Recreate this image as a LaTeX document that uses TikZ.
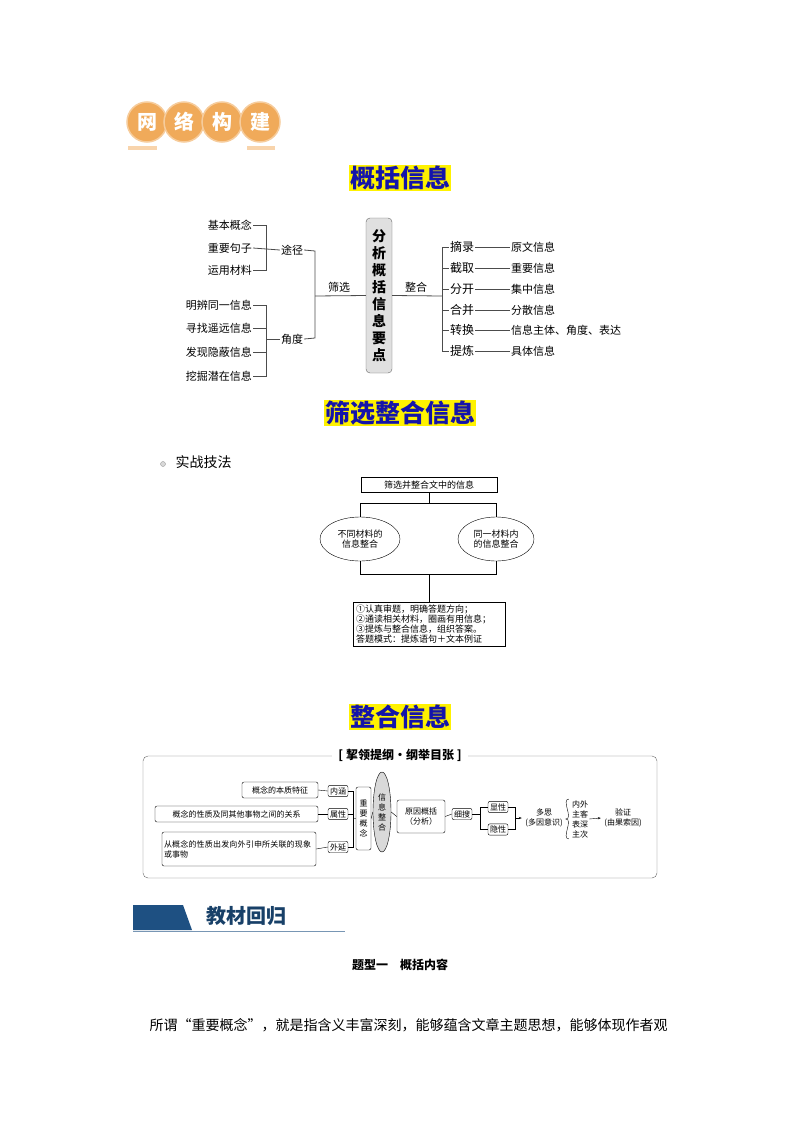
\documentclass[tikz,border=0pt]{standalone}
\usepackage{fontspec}
\setmainfont{Noto Sans CJK SC}
\XeTeXlinebreaklocale "zh"
\XeTeXlinebreakskip=0pt plus 1pt
\usetikzlibrary{shapes.geometric,arrows.meta,calc}
\definecolor{badge}{RGB}{240,170,90}
\definecolor{ttl}{RGB}{20,20,170}
\definecolor{navy}{RGB}{30,80,130}
\tikzset{
 t/.style={font=\fontsize{11}{12}\selectfont, inner sep=1pt},
 ts/.style={font=\fontsize{9}{10}\selectfont, inner sep=1pt},
 title/.style={fill=yellow, text=ttl, font=\fontsize{25}{27}\selectfont\bfseries, inner sep=1pt},
 ln/.style={draw=black!70, line width=0.8pt},
 sb/.style={draw, rounded corners=2pt, font=\fontsize{8}{10}\selectfont, inner sep=2pt},
}
\begin{document}
\begin{tikzpicture}[x=1pt,y=-1pt]
\useasboundingbox (0,0) rectangle (800,1132);
% badge
\foreach \cx/\ch [count=\i] in {147/网,184/络,222/构,260/建}{
 \node[circle, fill=badge, draw=badge!60!white, line width=1.5pt, minimum size=40pt, text=white,
   font=\fontsize{20}{20}\selectfont\bfseries] (bd\i) at (\cx,122) {\ch};}
\fill[badge!50] (128,146) rectangle (157,150);
\fill[badge!50] (247,146) rectangle (275,150);
% title 1
\node[title] (t1) at (400,178) {概括信息};
% diagram 1
\node[t, anchor=east] (a1) at (253,225) {基本概念};
\node[t, anchor=east] (a2) at (253,248) {重要句子};
\node[t, anchor=east] (a3) at (253,270) {运用材料};
\node[t, anchor=east] (b1) at (253,305) {明辨同一信息};
\node[t, anchor=east] (b2) at (253,328) {寻找遥远信息};
\node[t, anchor=east] (b3) at (253,352) {发现隐蔽信息};
\node[t, anchor=east] (b4) at (253,376) {挖掘潜在信息};
\node[t] (tj) at (292,250) {途径};
\node[t] (jd) at (292,339) {角度};
\draw[ln] (a1.east)--(266,225)--(266,270)--(a3.east);
\draw[ln] (a2.east)--(tj.west);
\draw[ln] (b1.east)--(266,305)--(266,376)--(b4.east);
\draw[ln] (b2.east)--(266,328); \draw[ln] (b3.east)--(266,352);
\draw[ln] (266,339)--(jd.west);
\draw[ln] (tj.east)--(315,251)--(315,338)--(jd.east);
\node[draw=black!60, fill=black!12, rounded corners=4pt, minimum width=26pt, minimum height=155pt,
  align=center, font=\fontsize{14}{17}\selectfont\bfseries, inner sep=1pt] (c) at (379,295.5)
  {分\\析\\概\\括\\信\\息\\要\\点};
\node[t] (sx) at (339,287) {筛选};
\node[t] (zh) at (416,287) {整合};
\draw[ln] (315,296)--(c.west);
\draw[ln] (c.east)--(442,296);
\draw[ln] (442,247)--(442,351);
\foreach \w/\r/\yy [count=\i] in {摘录/原文信息/247,截取/重要信息/268,分开/集中信息/289,合并/分散信息/310,转换/信息主体、角度、表达/330,提炼/具体信息/351}{
 \node[t, font=\fontsize{12}{13}\selectfont] (l\i) at (462,\yy) {\w};
 \node[t, anchor=west] (r\i) at (510,\yy) {\r};
 \draw[ln] (442,\yy)--(l\i.west);
 \draw[ln] (l\i.east)--(r\i.west);
}
% title 2
\node[title] (t2) at (400,413) {筛选整合信息};
\node[circle, draw=black!40, fill=black!15, minimum size=5pt, inner sep=0] (bul) at (163,464) {};
\node[font=\fontsize{14}{15}\selectfont, anchor=west] (sz) at (172,462) {实战技法};
% flowchart
\node[draw, ts, minimum width=136pt, minimum height=15pt] (f0) at (429,485) {筛选并整合文中的信息};
\node[draw, ellipse, ts, align=center, minimum width=80pt, minimum height=44pt] (e1) at (360,539) {不同材料的\\信息整合};
\node[draw, ellipse, ts, align=center, minimum width=76pt, minimum height=44pt] (e2) at (496,539) {同一材料内\\的信息整合};
\node[draw, ts, align=left, text width=146pt, inner sep=3pt, line width=0.6pt] (f3) at (429,624) {①认真审题，明确答题方向；\\②通读相关材料，圈画有用信息；\\③提炼与整合信息，组织答案。\\答题模式：提炼语句＋文本例证};
\draw (f0.south)--(429,503)--(360,503)--(e1.north);
\draw (429,503)--(496,503)--(e2.north);
\draw (e1.south)--(360,574)--(496,574)--(e2.south);
\draw (429,574)--(f3.north);
% title 3
\node[title] (t3) at (400,717) {整合信息};
% panel
\draw[black!60, rounded corners=5pt] (143,756) rectangle (657,878);
\node[fill=white, font=\fontsize{12}{13}\selectfont\bfseries, inner xsep=6pt] (hd) at (400,755) {[\ 挈领提纲·纲举目张\ ]};
\node[sb, minimum width=76pt, minimum height=16pt] (p1) at (280,790) {概念的本质特征};
\node[sb, minimum width=163pt, minimum height=16pt] (p2) at (236.5,814) {概念的性质及同其他事物之间的关系};
\node[sb, minimum height=34pt, align=left, text width=150pt] (p3) at (239,849) {从概念的性质出发向外引申所关联的现象或事物};
\node[sb] (q1) at (338,791) {内涵};
\node[sb] (q2) at (338,814) {属性};
\node[sb] (q3) at (338,847) {外延};
\foreach \i in {1,2,3}{\draw (p\i.east)--(q\i.west);}
\draw (q1.east)--(353,791)--(353,847)--(q3.east); \draw (q2.east)--(353,814);
\node[sb, align=center, minimum height=63pt, minimum width=15pt, inner sep=1pt] (zy) at (363.5,818.5) {重\\要\\概\\念};
\draw (353,818)--(zy.west);
\node[draw, ellipse, fill=black!15, minimum width=18pt, minimum height=80pt, inner sep=0, align=center, font=\fontsize{8}{10}\selectfont] (el) at (382,812) {信\\息\\整\\合};
\draw (zy.east)--(el.west);
\node[sb, align=center, minimum width=48pt, minimum height=33pt] (yy) at (421,816.5) {原因概括\\（分析）};
\draw (el.east)--(yy.west);
\node[sb] (xs) at (462,814) {细搜};
\draw (yy.east)--(xs.west);
\node[sb] (xx) at (498,807) {显性};
\node[sb] (yx) at (498,829.5) {隐性};
\draw (xs.east)--(480,814); \draw (480,807)--(480,829.5);
\draw (480,807)--(xx.west); \draw (480,829.5)--(yx.west);
\draw (xx.east)--(515,807)--(515,829.5)--(yx.east);
\node[font=\fontsize{8}{10}\selectfont, align=center] (ds) at (544,818) {多思\\(多因意识)};
\draw[-{Stealth[length=3pt]}] (515,818)--(ds.west);
\node[font=\fontsize{8}{10}\selectfont, align=center, inner sep=1pt] (nw) at (580,819) {内外\\主客\\表深\\主次};
\draw (nw.north west)++(-2,0) to[out=180,in=0] ($(nw.west)+(-5,0)$) to[out=0,in=180] ($(nw.south west)+(-2,0)$);
\node[font=\fontsize{8}{10}\selectfont, align=center] (yz) at (623,818) {验证\\(由果索因)};
\draw[-{Stealth[length=3pt]}] (nw.east)--(yz.west);
% banner
\fill[navy] (133,905) -- (183,905) -- (192,930) -- (133,930) -- cycle;
\draw[navy!60, line width=1pt] (133,931)--(345,931);
\node[font=\fontsize{20}{22}\selectfont\bfseries, text=navy!80!black, anchor=west] (jc) at (203,916) {教材回归};
% heading & text
\node[font=\fontsize{12}{13}\selectfont\bfseries] (tx) at (400,965) {题型一\quad 概括内容};
\node[font=\fontsize{14}{15}\selectfont, anchor=west] (pg) at (146,1025) {所谓“重要概念”，就是指含义丰富深刻，能够蕴含文章主题思想，能够体现作者观};
\end{tikzpicture}
\end{document}
